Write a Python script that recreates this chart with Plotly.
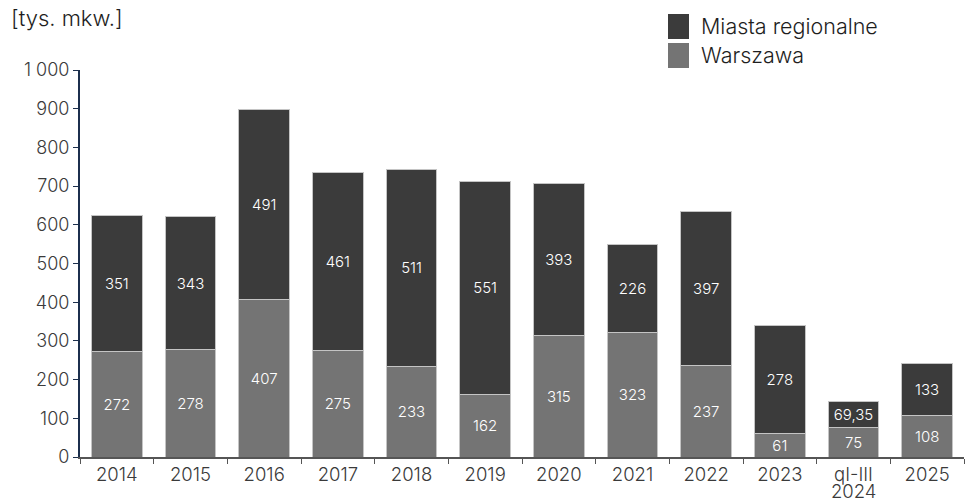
import plotly.graph_objects as go

# Office supply by year (thousand sq m)
categories = ["2014", "2015", "2016", "2017", "2018", "2019", "2020",
              "2021", "2022", "2023", "qI-III 2024", "2025"]
tick_labels = ["2014", "2015", "2016", "2017", "2018", "2019", "2020",
               "2021", "2022", "2023", "qI-III", "2025"]
warszawa = [272, 278, 407, 275, 233, 162, 315, 323, 237, 61, 75, 108]
miasta_regionalne = [351, 343, 491, 461, 511, 551, 393, 226, 397, 278, 69.35, 133]
warszawa_labels = ["272", "278", "407", "275", "233", "162", "315", "323", "237", "61", "75", "108"]
miasta_labels = ["351", "343", "491", "461", "511", "551", "393", "226", "397", "278", "69,35", "133"]
y_ticks = [0, 100, 200, 300, 400, 500, 600, 700, 800, 900, 1000]
y_tick_text = ["0", "100", "200", "300", "400", "500", "600", "700", "800", "900", "1 000"]

FONT = "Inter"
WEIGHT = 300
DARK = "#3b3b3b"
GRAY = "#747474"
TICK_COLOR = "#3a3a3a"

fig = go.Figure()
fig.add_trace(go.Bar(
    name="Warszawa", x=categories, y=warszawa, text=warszawa_labels,
    marker=dict(color=GRAY, line=dict(color="#c4c4c4", width=1)),
    textposition="inside", insidetextanchor="middle", textangle=0,
    constraintext="none",
    textfont=dict(color="white", size=15, family=FONT, weight=WEIGHT),
    hoverinfo="x+y",
))
fig.add_trace(go.Bar(
    name="Miasta regionalne", x=categories, y=miasta_regionalne, text=miasta_labels,
    marker=dict(color=DARK, line=dict(color="#c4c4c4", width=1)),
    textposition="inside", insidetextanchor="middle", textangle=0,
    constraintext="none",
    textfont=dict(color="white", size=15, family=FONT, weight=WEIGHT),
    hoverinfo="x+y",
))

# Legend drawn as large swatches with labels
legend_items = [("Miasta regionalne", DARK, 14), ("Warszawa", GRAY, 43)]
shapes = []
annotations = []
for label, color, top in legend_items:
    shapes.append(dict(type="rect", xref="paper", yref="paper",
                       x0=(668 - 80) / 884, x1=(689 - 80) / 884,
                       y0=(457 - top) / 387, y1=(457 - top - 25) / 387,
                       fillcolor=color, line=dict(width=0)))
    annotations.append(dict(text=label, xref="paper", yref="paper",
                            x=(699 - 80) / 884, y=(457 - top - 12) / 387,
                            xanchor="left", yanchor="middle", showarrow=False,
                            font=dict(size=21.5, family=FONT, weight=WEIGHT, color="#1e1e1e")))
annotations.append(dict(text="[tys. mkw.]", xref="paper", yref="paper",
                        x=(9 - 80) / 884, y=(457 - 18) / 387,
                        xanchor="left", yanchor="middle", showarrow=False,
                        font=dict(size=22, family=FONT, weight=WEIGHT, color="#1e1e1e")))
# Second line of the partial-year category label, set tight under the first
annotations.append(dict(text="2024", xref="x", yref="paper",
                        x="qI-III 2024", y=(457 - 491) / 387,
                        xanchor="center", yanchor="middle", showarrow=False,
                        font=dict(size=18.5, family=FONT, weight=WEIGHT, color=TICK_COLOR)))

fig.update_layout(
    width=967, height=503,
    margin=dict(l=80, r=3, t=70, b=46),
    barmode="stack", bargap=0.31,
    plot_bgcolor="white", paper_bgcolor="white",
    showlegend=False,
    font=dict(family=FONT, size=18, color=TICK_COLOR, weight=WEIGHT),
    shapes=shapes, annotations=annotations,
    xaxis=dict(tickvals=categories, ticktext=tick_labels,
               showline=True, linecolor="#555", linewidth=1.5,
               ticks="outside", tickson="boundaries", ticklen=5, tickcolor="#555",
               tickfont=dict(size=18.5, color=TICK_COLOR, family=FONT, weight=WEIGHT),
               showgrid=False, automargin=False),
    yaxis=dict(range=[0, 1000], tickvals=y_ticks, ticktext=y_tick_text,
               showline=True, linecolor="#1c2f4d", linewidth=2,
               ticks="outside", ticklen=5, tickcolor="#1c2f4d",
               tickfont=dict(size=18, color=TICK_COLOR, family=FONT, weight=WEIGHT),
               showgrid=False, zeroline=False, automargin=False),
)

fig.write_html("out.html")
